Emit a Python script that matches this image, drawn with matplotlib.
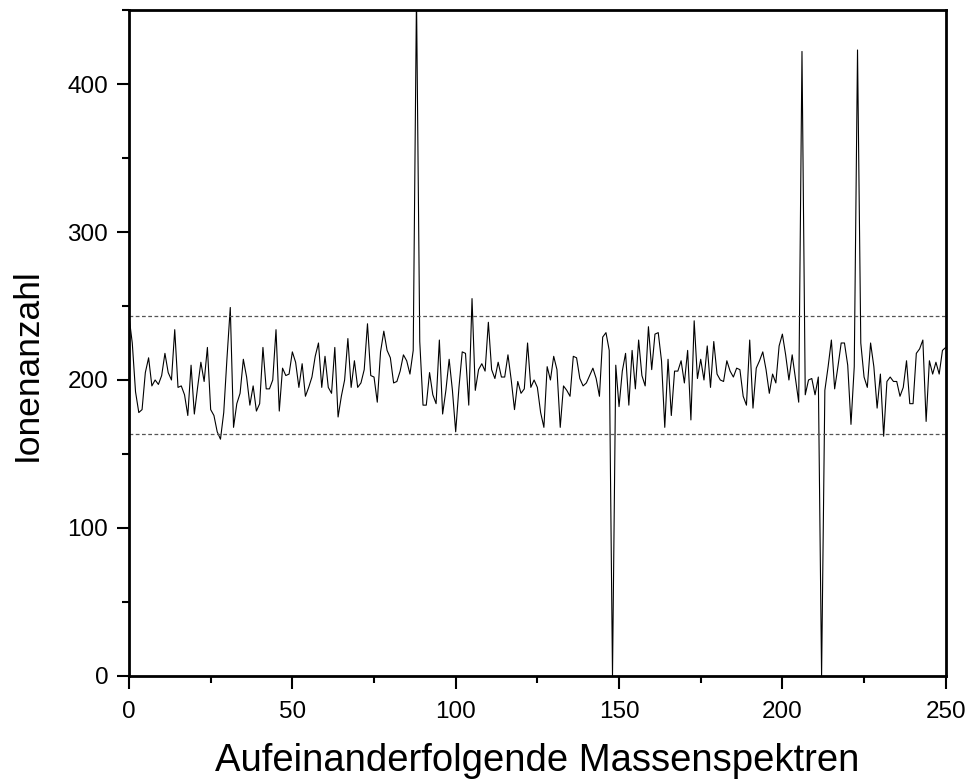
import numpy as np
import matplotlib
matplotlib.use("Agg")
import matplotlib.pyplot as plt
from matplotlib.ticker import MultipleLocator

# ---------- data ----------
ion_counts = [
    243, 225, 192, 178, 180, 205, 215, 196, 200, 197,
    203, 218, 205, 200, 234, 195, 196, 190, 176, 210,
    177, 195, 212, 199, 222, 180, 176, 165, 160, 178,
    215, 249, 168, 184, 191, 214, 202, 183, 196, 179,
    184, 222, 194, 194, 200, 234, 179, 208, 203, 204,
    219, 212, 195, 211, 189, 195, 202, 216, 225, 195,
    216, 195, 191, 222, 175, 189, 200, 228, 195, 213,
    195, 198, 207, 238, 203, 202, 185, 219, 233, 220,
    215, 198, 199, 206, 217, 213, 204, 220, 460, 226,
    183, 183, 205, 190, 184, 227, 177, 193, 214, 193,
    165, 195, 219, 218, 183, 255, 193, 207, 211, 206,
    239, 207, 201, 212, 202, 202, 217, 200, 180, 199,
    191, 194, 225, 195, 200, 195, 178, 168, 209, 200,
    216, 207, 168, 196, 193, 189, 216, 215, 201, 196,
    198, 203, 208, 201, 189, 229, 232, 220, 0, 210,
    182, 206, 218, 183, 220, 194, 227, 203, 196, 236,
    207, 231, 232, 213, 168, 214, 176, 206, 206, 213,
    198, 220, 173, 240, 201, 214, 200, 223, 195, 226,
    204, 200, 199, 213, 206, 202, 208, 207, 189, 183,
    227, 181, 208, 213, 219, 207, 191, 204, 198, 223,
    231, 217, 200, 217, 201, 185, 422, 190, 200, 201,
    190, 202, 0, 193, 209, 227, 194, 209, 225, 225,
    210, 170, 209, 423, 225, 202, 195, 225, 209, 181,
    204, 162, 199, 202, 199, 199, 189, 195, 213, 184,
    184, 218, 221, 227, 172, 213, 204, 212, 204, 220,
    222,
]
band_low = 163.5
band_high = 243.5

x_label = "Aufeinanderfolgende Massenspektren"
y_label = "Ionenanzahl"

plt.rcParams["font.family"] = ["Liberation Sans", "DejaVu Sans"]

fig = plt.figure(figsize=(9.67, 7.83), dpi=100)
ax = fig.add_axes([0.1334, 0.1367, 0.8446, 0.8505])

spectra = range(len(ion_counts))
ax.plot(spectra, ion_counts, color="black", lw=0.8)
for level in (band_low, band_high):
    ax.axhline(level, color="#555555", lw=0.9, ls=(0, (3, 2)))

ax.set_xlim(0, 250)
ax.set_ylim(0, 450)
ax.xaxis.set_major_locator(MultipleLocator(50))
ax.xaxis.set_minor_locator(MultipleLocator(25))
ax.yaxis.set_major_locator(MultipleLocator(100))
ax.yaxis.set_minor_locator(MultipleLocator(50))
ax.tick_params(which="both", direction="out", width=1.5, labelsize=17.5,
               top=False, right=False)
ax.tick_params(which="major", length=9)
ax.tick_params(which="minor", length=5)
ax.tick_params(axis="x", which="major", pad=9)
ax.tick_params(axis="y", which="major", pad=6)
for sp in ax.spines.values():
    sp.set_linewidth(2)

ax.set_xlabel(x_label, fontsize=27.5, va="center")
ax.xaxis.set_label_coords(0.5, -0.128)
ax.set_ylabel(y_label, fontsize=25.5, va="center")
ax.yaxis.set_label_coords(-0.125, 0.467)

fig.savefig("out.png", dpi=100)
